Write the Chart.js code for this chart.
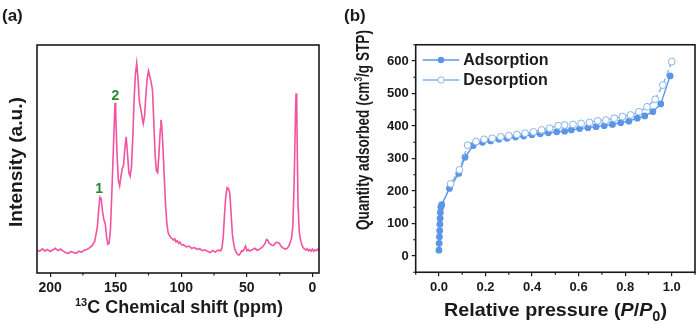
<!DOCTYPE html>
<html>
<head>
<meta charset="utf-8">
<script src="https://cdn.jsdelivr.net/npm/chart.js@4.4.1/dist/chart.umd.min.js"></script>
<style>
  html, body { margin: 0; padding: 0; background: #fff; }
  #wrap { position: relative; width: 700px; height: 324px; overflow: hidden; }
  .panel { position: absolute; top: 0; width: 350px; height: 324px; }
  .tag { position: absolute; top: 6px; font: bold 17px "Liberation Sans", Arial, sans-serif; color: #1a1a1a; }
</style>
</head>
<body>
<div id="wrap">
  <div class="panel" style="left:0"><canvas id="nmr" width="350" height="324"></canvas></div>
  <div class="panel" style="left:350px"><canvas id="bet" width="350" height="324"></canvas></div>
  <div class="tag" style="left:2px">(a)</div>
  <div class="tag" style="left:344px">(b)</div>
</div>
<script>
// (a) 13C solid-state NMR spectrum
const ppm = [210, 208, 206, 204, 202, 200, 198, 196, 194, 192, 190, 188, 186, 184, 182, 180, 178, 176, 174, 172,
  170, 168, 166, 164, 163, 162, 161, 160, 159, 158, 157, 156, 155, 154, 153, 152, 151, 150.5, 150, 149,
  148, 147, 146, 145, 144, 143, 142, 141, 140, 139, 138, 137, 136, 135, 134, 133, 132, 131, 130, 129,
  128, 127, 126, 125, 124, 123, 122, 121, 120, 119, 118, 117, 116, 115.5, 115, 114, 113, 112, 111, 110,
  109, 108, 107, 106, 105, 104, 103, 102, 101, 100, 98, 96, 94, 92, 90, 88, 86, 84, 82, 80,
  78, 76, 74, 72, 70, 69, 68, 67, 66, 65, 64, 63, 62, 61, 60, 59, 58, 57, 56, 55,
  54, 53, 52, 51, 50, 49, 48, 46, 44, 42, 40, 38, 36, 35, 34, 33, 32, 31, 30, 29,
  28, 27, 26, 25, 24, 23, 22, 21, 20, 19, 18, 17, 16, 15, 14, 13, 12.5, 12, 11.5, 11,
  10, 9, 8, 7, 6, 5, 4, 3, 2, 1, 0, -1, -2, -3, -4, -5];
const intensity = [1.0, 0.2, 1.5, 0.4, 1.2, 0.1, 0.9, 1.8, 0.6, 1.4, 0.3, -0.6, -0.9, 0.2, -0.5, -0.8, 0.3, -0.2, 0.8, 1.2,
  2.0, 3.2, 5.5, 13, 22, 29, 28, 21, 17, 15, 8, 4, 4.5, 12, 30, 50, 70, 79, 74, 52,
  38, 35, 40, 44, 46, 55, 61, 52, 42, 40, 45, 60, 80, 94, 100, 92, 80, 76, 72, 68,
  72, 83, 92, 96, 93, 90, 86, 70, 52, 43, 42, 52, 65, 70, 68, 56, 40, 25, 15, 10,
  8.5, 7.5, 7, 6.2, 6.8, 5.2, 5.8, 4.5, 5.0, 3.8, 3.5, 2.6, 3.0, 1.8, 2.2, 1.2, 1.6, 0.6, 1.0, 0.2,
  -0.5, 0.6, -0.2, 0.8, 0.5, 2, 8, 20, 30, 34, 33.5, 31, 20, 9, 4, 1, -0.5, -1.5, -1.8, -1,
  0.5, 0.2, 1.5, 3.0, 0.5, 1.2, 0.4, 1.0, 1.8, 0.8, 1.5, 2.5, 4.5, 6.5, 6.0, 4.5, 4.0, 3.5, 3.2, 3.8,
  4.8, 5.0, 4.8, 4.2, 3.0, 2.2, 1.8, 1.5, 1.5, 2, 3, 5, 7, 13, 35, 70, 84, 80, 50, 25,
  10, 6, 3.5, 2, 1.5, 0.8, 1.6, 0.4, 1.2, 0.3, 1.4, 0.2, 1.0, 0.5, 1.3, 0.6];
const ppmTicks = [200, 150, 100, 50, 0];
const ppmMinorTicks = [175, 125, 75, 25];
const peakLabels = ["1", "2"];
const peakPpm = [162.6, 150.2];
const peakHeight = [33, 82.5];

// (b) N2 adsorption / desorption isotherm
const adsP = [0.000, 0.001, 0.002, 0.003, 0.004, 0.005, 0.006, 0.008, 0.012, 0.045, 0.085, 0.112, 0.147, 0.187,
  0.222, 0.258, 0.293, 0.329, 0.364, 0.399, 0.435, 0.470, 0.506, 0.540, 0.569, 0.604, 0.640, 0.675,
  0.710, 0.745, 0.781, 0.816, 0.852, 0.884, 0.919, 0.953, 0.993];
const adsQ = [18, 39, 59, 78, 98, 116, 134, 150, 158, 208, 254, 304, 340, 350,
  354, 359, 362, 366, 369, 373, 376, 379, 382, 384, 388, 392, 395, 398,
  401, 405, 410, 415, 424, 431, 444, 468, 554];
const desP = [1.000, 0.962, 0.929, 0.894, 0.859, 0.823, 0.788, 0.753, 0.717, 0.682, 0.647, 0.611, 0.576, 0.540,
  0.512, 0.476, 0.441, 0.406, 0.370, 0.335, 0.300, 0.265, 0.229, 0.194, 0.159, 0.123, 0.088, 0.050];
const desQ = [598, 526, 482, 459, 444, 434, 429, 424, 418, 416, 411, 408, 405, 403,
  401, 393, 388, 382, 378, 374, 370, 367, 362, 359, 352, 341, 265, 222];
const pressureTicks = [0, 0.2, 0.4, 0.6, 0.8, 1.0];
const pressureMinorTicks = [-0.1, 0.1, 0.3, 0.5, 0.7, 0.9, 1.1];
const quantityTicks = [0, 100, 200, 300, 400, 500, 600];
const quantityMinorTicks = [-50, 50, 150, 250, 350, 450, 550, 650];

const FONT = '"Liberation Sans", Arial, Helvetica, sans-serif';
const INK = "#1a1a1a";
Chart.defaults.font.family = FONT;
Chart.defaults.color = INK;

// draws a row of text pieces (super/subscripts, italics) squeezed to a given width
function richText(ctx, parts, x, y, width, angle) {
  ctx.save();
  ctx.translate(x, y);
  if (angle) ctx.rotate(angle);
  let total = 0;
  parts.forEach(p => { ctx.font = p.font; p.w = ctx.measureText(p.text).width; total += p.w; });
  ctx.scale(width / total, 1);
  ctx.fillStyle = INK;
  ctx.textAlign = "left";
  ctx.textBaseline = "alphabetic";
  let cx = -total / 2;
  parts.forEach(p => { ctx.font = p.font; ctx.fillText(p.text, cx, p.dy || 0); cx += p.w; });
  ctx.restore();
}

function framePlugin(minorX, minorY, titles) {
  return {
    id: "frame",
    afterDraw(chart) {
      const ctx = chart.ctx, a = chart.chartArea;
      ctx.save();
      ctx.strokeStyle = INK;
      ctx.lineWidth = 1.6;
      ctx.strokeRect(a.left, a.top, a.right - a.left, a.bottom - a.top);
      ctx.lineWidth = 1.2;
      ctx.beginPath();
      minorX.forEach(v => {
        const px = chart.scales.x.getPixelForValue(v);
        if (px < a.left - 0.5 || px > a.right + 0.5) return;
        ctx.moveTo(px, a.bottom); ctx.lineTo(px, a.bottom + 2.5);
      });
      minorY.forEach(v => {
        const py = chart.scales.y.getPixelForValue(v);
        if (py < a.top - 0.5 || py > a.bottom + 0.5) return;
        ctx.moveTo(a.left, py); ctx.lineTo(a.left - 2.5, py);
      });
      ctx.stroke();
      ctx.restore();
      titles(ctx, chart);
    }
  };
}

const tickGrid = { display: true, drawOnChartArea: false, drawTicks: true, tickLength: 4, color: INK, lineWidth: 1.2 };

// ---------- (a) ----------
new Chart(document.getElementById("nmr"), {
  type: "scatter",
  data: {
    datasets: [{
      data: ppm.map((v, i) => ({ x: v, y: intensity[i] })),
      showLine: true,
      borderColor: "rgb(243,82,160)",
      borderWidth: 1.6,
      pointRadius: 0,
      tension: 0
    }]
  },
  options: {
    responsive: false,
    animation: false,
    layout: { padding: { left: 0, right: 31, top: 45, bottom: 0 } },
    plugins: { legend: { display: false }, tooltip: { enabled: false } },
    scales: {
      x: {
        type: "linear", min: -5, max: 210, reverse: true,
        afterBuildTicks: s => { s.ticks = ppmTicks.map(v => ({ value: v })); },
        afterFit: s => { s.height = 51; },
        ticks: { font: { size: 14, weight: "bold" }, color: INK, padding: 3, maxRotation: 0 },
        grid: tickGrid,
        border: { display: false }
      },
      y: {
        min: -11.3, max: 109.7,
        afterFit: s => { s.width = 37; },
        ticks: { display: false },
        grid: { display: false },
        border: { display: false }
      }
    }
  },
  plugins: [framePlugin(ppmMinorTicks, [], (ctx, chart) => {
    richText(ctx, [
      { text: "13", font: "bold 11px " + FONT, dy: -7 },
      { text: "C Chemical shift (ppm)", font: "bold 18px " + FONT }
    ], 179, 313, 208);
    richText(ctx, [{ text: "Intensity (a.u.)", font: "bold 18px " + FONT }], 21.5, 162, 130, -Math.PI / 2);
    // green peak numbers
    ctx.save();
    ctx.fillStyle = "#238a30";
    ctx.font = "bold 14px " + FONT;
    ctx.textAlign = "center";
    ctx.textBaseline = "middle";
    peakLabels.forEach((t, i) => {
      ctx.fillText(t, chart.scales.x.getPixelForValue(peakPpm[i]), chart.scales.y.getPixelForValue(peakHeight[i]));
    });
    ctx.restore();
  })]
});

// ---------- (b) ----------
const adsColor = "#5b96e6";
const desColor = "#86b4ee";

new Chart(document.getElementById("bet"), {
  type: "scatter",
  data: {
    datasets: [
      {
        label: "Desorption",
        data: desP.map((v, i) => ({ x: v, y: desQ[i] })),
        showLine: true,
        borderColor: desColor,
        borderWidth: 1.4,
        borderDash: [6, 3],
        pointRadius: 3.4,
        pointBorderWidth: 1,
        pointBackgroundColor: "#ffffff",
        pointBorderColor: desColor
      },
      {
        label: "Adsorption",
        data: adsP.map((v, i) => ({ x: v, y: adsQ[i] })),
        showLine: true,
        borderColor: adsColor,
        borderWidth: 1.4,
        pointRadius: 3.4,
        pointBorderWidth: 0,
        pointBackgroundColor: adsColor,
        pointBorderColor: adsColor
      }
    ]
  },
  options: {
    responsive: false,
    animation: false,
    layout: { padding: { left: 0, right: 1.4, top: 44.75, bottom: 0 } },
    plugins: { legend: { display: false }, tooltip: { enabled: false } },
    scales: {
      x: {
        type: "linear", min: -0.1, max: 1.1,
        afterBuildTicks: s => { s.ticks = pressureTicks.map(v => ({ value: v })); },
        afterFit: s => { s.height = 51.75; },
        ticks: { font: { size: 13, weight: "bold" }, color: INK, padding: 3, maxRotation: 0,
          callback: v => v.toFixed(1) },
        grid: tickGrid,
        border: { display: false }
      },
      y: {
        min: -50, max: 650,
        afterBuildTicks: s => { s.ticks = quantityTicks.map(v => ({ value: v })); },
        afterFit: s => { s.width = 65.7; },
        ticks: { font: { size: 13, weight: "bold" }, color: INK, padding: 3 },
        grid: tickGrid,
        border: { display: false }
      }
    }
  },
  plugins: [framePlugin(pressureMinorTicks, quantityMinorTicks, (ctx, chart) => {
    richText(ctx, [
      { text: "Relative pressure (", font: "bold 19px " + FONT },
      { text: "P", font: "italic bold 19px " + FONT },
      { text: "/", font: "bold 19px " + FONT },
      { text: "P", font: "italic bold 19px " + FONT },
      { text: "0", font: "bold 14px " + FONT, dy: 5 },
      { text: ")", font: "bold 19px " + FONT }
    ], 205.5, 316, 223);
    richText(ctx, [
      { text: "Quantity adsorbed (cm", font: "bold 18px " + FONT },
      { text: "3", font: "bold 11px " + FONT, dy: -7 },
      { text: "/g STP)", font: "bold 18px " + FONT }
    ], 19, 130, 200, -Math.PI / 2);

    // legend, styled from the datasets
    const rows = [chart.data.datasets[1], chart.data.datasets[0]];
    ctx.save();
    rows.forEach((ds, i) => {
      const y = 60 + i * 20;
      ctx.strokeStyle = ds.borderColor;
      ctx.lineWidth = 1.4;
      ctx.beginPath();
      ctx.moveTo(72.7, y); ctx.lineTo(109.3, y);
      ctx.stroke();
      ctx.beginPath();
      ctx.arc(91, y, 3.2, 0, Math.PI * 2);
      ctx.fillStyle = ds.pointBackgroundColor;
      ctx.fill();
      if (ds.pointBorderWidth) { ctx.lineWidth = 1; ctx.strokeStyle = ds.pointBorderColor; ctx.stroke(); }
      ctx.fillStyle = INK;
      ctx.font = "bold 16px " + FONT;
      ctx.textAlign = "left";
      ctx.textBaseline = "middle";
      ctx.fillText(ds.label, 113.3, y + 1);
    });
    ctx.restore();
  })]
});
</script>
</body>
</html>
